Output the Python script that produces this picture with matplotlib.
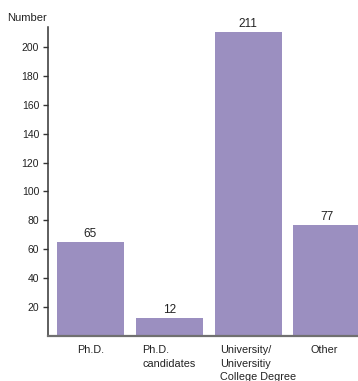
import matplotlib
matplotlib.use("Agg")
import matplotlib.pyplot as plt
import matplotlib.transforms as mtransforms
import numpy as np

categories = ["Ph.D.", "Ph.D.\ncandidates", "University/\nUniversitiy\nCollege Degree", "Other"]
values = [65, 12, 211, 77]
yticks = [20, 40, 60, 80, 100, 120, 140, 160, 180, 200]

plt.rcParams["font.family"] = ["Liberation Sans", "DejaVu Sans"]

W, H = 358, 381
fig = plt.figure(figsize=(W / 100, H / 100), dpi=100)

# axes placed in pixel terms
left_px, bottom_px, top_px = 47.5, 335.5, 27.3
ax = fig.add_axes([left_px / W, (H - bottom_px) / H, 1 - left_px / W, (bottom_px - top_px) / H])

spacing = 78.8
x = np.arange(len(categories))
bar_color = "#9b8fc0"
ax.bar(x, values, width=67 / spacing, color=bar_color, zorder=2)

x_left = -(90.4 - left_px) / spacing
x_right = x_left + (W - left_px) / spacing
ax.set_xlim(x_left, x_right)
ax.set_ylim(0, 214)

for s in ["top", "right"]:
    ax.spines[s].set_visible(False)
ax.spines["left"].set_color("#333333")
ax.spines["left"].set_linewidth(1.1)
ax.spines["bottom"].set_color("#707070")
ax.spines["bottom"].set_linewidth(1.6)

ax.set_yticks(yticks)
ax.set_yticklabels([str(v) for v in yticks])
ax.tick_params(axis="y", direction="out", length=3.5, width=1.0, color="#333333",
               labelsize=7.5, labelcolor="#222222", pad=2.5)

ax.set_xticks(x)
ax.set_xticklabels(categories, fontsize=7.8, color="#222222", multialignment="left",
                   linespacing=1.45)
ax.tick_params(axis="x", length=0, pad=7.0)
labels = ax.get_xticklabels()
labels[2].set_transform(labels[2].get_transform() +
                        mtransforms.ScaledTranslation(10.5 / 100, 0, fig.dpi_scale_trans))
labels[3].set_transform(labels[3].get_transform() +
                        mtransforms.ScaledTranslation(-3 / 100, 0, fig.dpi_scale_trans))

for xi, v in zip(x, values):
    ax.annotate(str(v), (xi, v), xytext=(0, 3.4), textcoords="offset points",
                ha="center", va="baseline", fontsize=8.5, color="#222222")

fig.text(7.3 / W, 1 - 20.7 / H, "Number", ha="left", va="baseline",
         fontsize=8, color="#222222")

fig.savefig("out.png", dpi=100)
